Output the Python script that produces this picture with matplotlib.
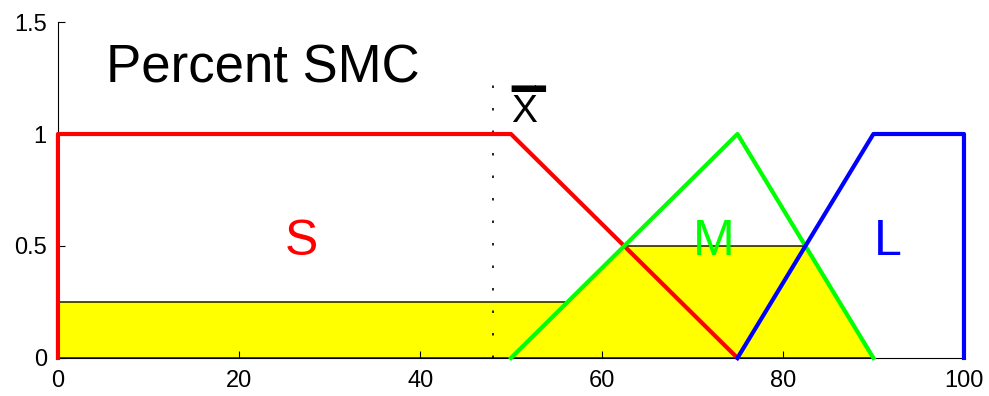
import matplotlib.pyplot as plt

plt.rcParams['font.family'] = ['Liberation Sans', 'DejaVu Sans']

# membership functions (percent SMC)
small_x = [0, 0, 50, 75]
small_y = [0, 1, 1, 0]
medium_x = [50, 75, 90]
medium_y = [0, 1, 0]
large_x = [75, 90, 100, 100]
large_y = [0, 1, 1, 0]

# aggregated (clipped) output region
agg_x = [0, 0, 56.25, 62.5, 82.5, 90]
agg_y = [0, 0.25, 0.25, 0.5, 0.5, 0]

xbar = 48
xbar_top = 1.25

fig = plt.figure(figsize=(9.89, 3.96), dpi=100)
ax = fig.add_axes([0.0586, 0.096, 0.9161, 0.8484])

ax.fill(agg_x, agg_y, facecolor='#ffff00', edgecolor='black', linewidth=1, zorder=1)
ax.plot([xbar, xbar], [0, xbar_top], color='black', linewidth=1.2,
        dashes=(1.5, 12), zorder=2)
ax.plot(small_x, small_y, color='#ff0000', linewidth=3, clip_on=False, zorder=3)
ax.plot(medium_x, medium_y, color='#00ff00', linewidth=3, clip_on=False, zorder=3)
ax.plot(large_x, large_y, color='#0000ff', linewidth=3, clip_on=False, zorder=3)

ax.text(5.3, 1.232, 'Percent SMC', fontsize=38, ha='left', va='baseline')
# x-bar as one text: heavy bar line above the letter
ax.text(50.0, 1.054, '\u2501\u2578\nX', fontsize=28, ha='left', va='baseline',
        multialignment='left', linespacing=0.44)
ax.text(26.9, 0.52, 'S', color='#ff0000', fontsize=36, ha='center', va='center')
ax.text(72.4, 0.52, 'M', color='#00ff00', fontsize=36, ha='center', va='center')
ax.text(91.6, 0.52, 'L', color='#0000ff', fontsize=36, ha='center', va='center')

ax.set_xlim(0, 100)
ax.set_ylim(0, 1.5)
ax.set_xticks([0, 20, 40, 60, 80, 100])
ax.set_yticks([0, 0.5, 1, 1.5])
ax.set_yticklabels(['0', '0.5', '1', '1.5'])
ax.tick_params(direction='in', length=5, width=0.8, labelsize=17)
ax.tick_params(axis='x', pad=9)
ax.tick_params(axis='y', pad=8)
ax.spines['top'].set_visible(False)
ax.spines['right'].set_visible(False)

fig.savefig('out.png', dpi=100)
